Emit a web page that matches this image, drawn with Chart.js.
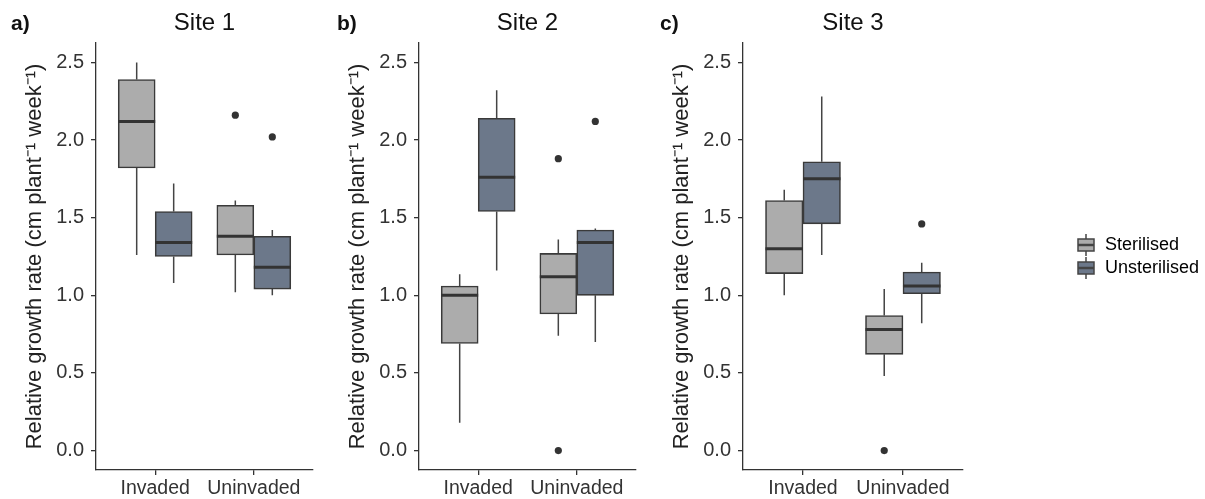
<!DOCTYPE html>
<html>
<head>
<meta charset="utf-8">
<script src="https://cdn.jsdelivr.net/npm/chart.js@4.4.1/dist/chart.umd.min.js"></script>
<style>
  html, body { margin: 0; padding: 0; background: #fff; overflow: hidden; }
  body { width: 1205px; height: 499px; position: relative; font-family: 'Liberation Sans', Arial, sans-serif; }
  .panel { position: absolute; top: 0; height: 499px; }
  .tag { position: absolute; top: 13px; font-size: 21px; line-height: 20px; font-weight: bold; color: #111; }
</style>
</head>
<body>
<div class="panel" style="left:0px;width:323px"><canvas id="site1"></canvas></div>
<div class="panel" style="left:323px;width:323px"><canvas id="site2"></canvas></div>
<div class="panel" style="left:647px;width:562px"><canvas id="site3"></canvas></div>
<div class="tag" style="left:11px">a)</div>
<div class="tag" style="left:337px">b)</div>
<div class="tag" style="left:660px">c)</div>
<script>
// categorias y tratamientos
const categories = ['Invaded', 'Uninvaded'];
const treatments = ['Sterilised', 'Unsterilised'];
const yTicks = [0, 0.5, 1, 1.5, 2, 2.5];

// [bigote inferior, Q1, mediana, Q3, bigote superior] por categoria
const site1Sterilised = [[1.26, 1.82, 2.12, 2.39, 2.50], [1.02, 1.26, 1.38, 1.58, 1.61]];
const site1Unsterilised = [[1.08, 1.25, 1.34, 1.54, 1.72], [1.00, 1.04, 1.18, 1.38, 1.42]];
const site1SterilisedOutliers = [[], [2.16]];
const site1UnsterilisedOutliers = [[], [2.02]];

const site2Sterilised = [[0.18, 0.69, 1.00, 1.06, 1.135], [0.74, 0.88, 1.12, 1.27, 1.36]];
const site2Unsterilised = [[1.16, 1.54, 1.76, 2.14, 2.32], [0.70, 1.00, 1.34, 1.42, 1.43]];
const site2SterilisedOutliers = [[], [1.88, 0.0]];
const site2UnsterilisedOutliers = [[], [2.12]];

const site3Sterilised = [[1.00, 1.14, 1.30, 1.61, 1.68], [0.48, 0.62, 0.78, 0.87, 1.04]];
const site3Unsterilised = [[1.26, 1.46, 1.75, 1.86, 2.28], [0.82, 1.01, 1.06, 1.15, 1.21]];
const site3SterilisedOutliers = [[], [0.0]];
const site3UnsterilisedOutliers = [[], [1.46]];

const fills = ['#ACACAC', '#6C788A'];
const dodge = 0.1875;   // media anchura de caja (ggplot width 0.75 / 2 grupos)
const ink = '#333333';

Chart.defaults.font.family = "'Liberation Sans', Arial, sans-serif";
Chart.defaults.color = ink;

// glifo de leyenda tipo boxplot
function legendGlyph(fill) {
  const c = document.createElement('canvas');
  c.width = 20; c.height = 22;
  const g = c.getContext('2d');
  g.strokeStyle = '#444'; g.lineWidth = 1.5;
  g.beginPath(); g.moveTo(10, 0); g.lineTo(10, 22); g.stroke();
  g.fillStyle = fill;
  g.fillRect(2, 5, 16, 12);
  g.strokeRect(2, 5, 16, 12);
  g.lineWidth = 2.5;
  g.beginPath(); g.moveTo(2, 11); g.lineTo(18, 11); g.stroke();
  return c;
}

function boxSets(stats, outliers, t) {
  const off = t === 0 ? -dodge : dodge;
  const whiskers = [], medians = [], points = [];
  stats.forEach((s, i) => {
    const cx = i + 1 + off;
    whiskers.push({x: cx, y: s[0]}, {x: cx, y: s[1]}, {x: cx, y: null},
                  {x: cx, y: s[3]}, {x: cx, y: s[4]}, {x: cx, y: null});
    medians.push({x: cx - dodge, y: s[2]}, {x: cx + dodge, y: s[2]}, {x: cx, y: null});
    outliers[i].forEach(v => points.push({x: cx, y: v}));
  });
  const common = {xAxisID: 'x', yAxisID: 'y'};
  return [
    Object.assign({
      type: 'bar', label: treatments[t], order: 2,
      data: stats.map((s, i) => ({x: i + 1 + off, y: [s[1], s[3]]})),
      backgroundColor: fills[t], borderColor: '#3a3a3a', borderWidth: 1.6, borderSkipped: false,
      grouped: false, categoryPercentage: 1, barPercentage: 1
    }, common),
    Object.assign({
      type: 'line', label: 'whisker', order: 3, data: whiskers, spanGaps: false,
      borderColor: '#444', borderWidth: 1.5, pointRadius: 0
    }, common),
    Object.assign({
      type: 'line', label: 'median', order: 0, data: medians, spanGaps: false,
      borderColor: ink, borderWidth: 3, pointRadius: 0, borderCapStyle: 'butt'
    }, common),
    Object.assign({
      type: 'scatter', label: 'outlier', order: 1, data: points,
      pointRadius: 3.6, pointBackgroundColor: ink, pointBorderWidth: 0
    }, common)
  ];
}

function makePanel(id, title, ster, unster, sterOut, unsterOut, withLegend) {
  const scales = {
    x: {
      type: 'linear', min: 0.4, max: 2.6, offset: false,
      afterBuildTicks: s => { s.ticks = categories.map((c, i) => ({value: i + 1})); },
      ticks: { callback: v => categories[v - 1] || '', font: {size: 19.5}, color: ink, padding: 2, maxRotation: 0, autoSkip: false },
      grid: { display: true, drawOnChartArea: false, offset: false, tickLength: 5, color: ink, lineWidth: 1.3 },
      border: { display: true, color: ink, width: 1.3 },
      afterFit: s => { s.height = 29; }
    },
    y: {
      min: -0.125, max: 2.625,
      afterBuildTicks: s => { s.ticks = yTicks.map(v => ({value: v})); },
      ticks: { callback: v => v.toFixed(1), font: {size: 20}, color: ink, padding: 7 },
      grid: { display: true, drawOnChartArea: false, tickLength: 5, color: ink, lineWidth: 1.3 },
      border: { display: true, color: ink, width: 1.3 },
      title: { display: true, text: 'Relative growth rate (cm plant\u207B\u00B9 week\u207B\u00B9)', font: {size: 22}, color: '#222', padding: {top: 22, bottom: 0} },
      afterFit: s => { s.width = 96; }
    },
    site: {
      type: 'linear', position: 'top', axis: 'x', display: true,
      grid: { display: false }, border: { display: false }, ticks: { display: false },
      title: { display: true, text: title, font: {size: 24}, color: '#111', padding: {top: 9, bottom: 0} },
      afterFit: s => { s.height = 43; }
    }
  };
  if (withLegend) {
    scales.gap = {
      type: 'linear', position: 'right', axis: 'y', display: true,
      grid: { display: false }, border: { display: false }, ticks: { display: false },
      afterFit: s => { s.width = 108; }
    };
  }
  new Chart(document.getElementById(id), {
    type: 'bar',
    data: { datasets: boxSets(ster, sterOut, 0).concat(boxSets(unster, unsterOut, 1)) },
    options: {
      responsive: true,
      maintainAspectRatio: false,
      animation: false,
      layout: { padding: { left: 0, top: 0, right: withLegend ? 0 : 10, bottom: 0 } },
      scales: scales,
      plugins: {
        tooltip: { enabled: false },
        legend: {
          display: withLegend,
          position: 'right',
          fullSize: false,
          maxWidth: 160,
          labels: {
            usePointStyle: true, pointStyleWidth: 20, padding: 5,
            font: {size: 18}, color: '#222',
            generateLabels: () => treatments.map((t, i) => ({
              text: t, pointStyle: legendGlyph(fills[i]), fillStyle: fills[i],
              strokeStyle: '#444', lineWidth: 0, hidden: false, datasetIndex: i * 4
            }))
          }
        }
      }
    }
  });
}

makePanel('site1', 'Site 1', site1Sterilised, site1Unsterilised, site1SterilisedOutliers, site1UnsterilisedOutliers, false);
makePanel('site2', 'Site 2', site2Sterilised, site2Unsterilised, site2SterilisedOutliers, site2UnsterilisedOutliers, false);
makePanel('site3', 'Site 3', site3Sterilised, site3Unsterilised, site3SterilisedOutliers, site3UnsterilisedOutliers, true);
</script>
</body>
</html>
